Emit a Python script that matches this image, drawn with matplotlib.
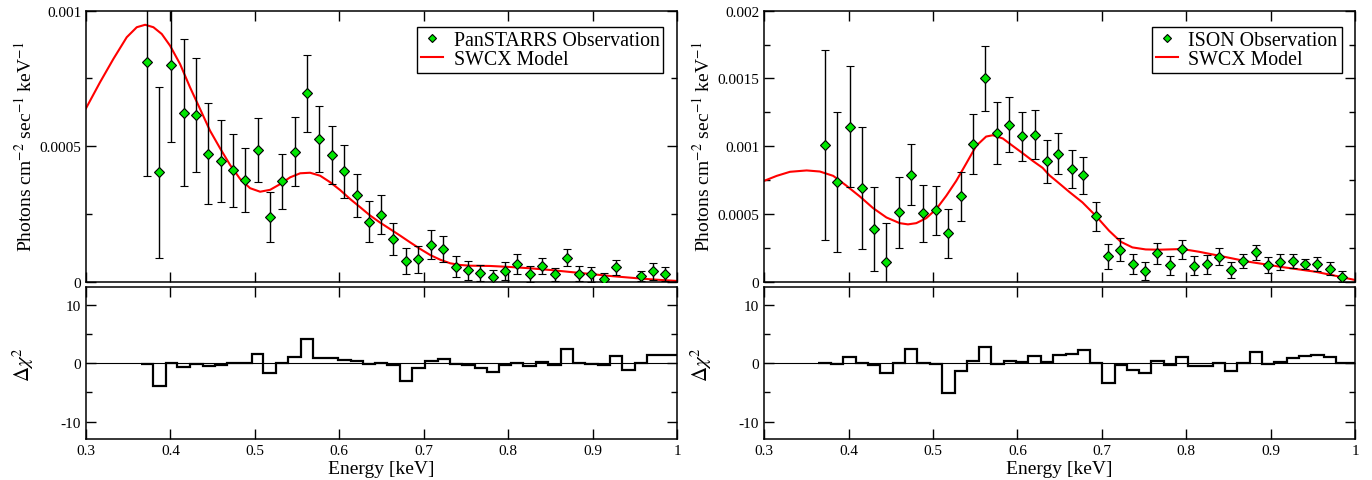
import numpy as np
import matplotlib
matplotlib.use('Agg')
import matplotlib.pyplot as plt
from matplotlib.lines import Line2D
from matplotlib.ticker import MultipleLocator, FormatStrFormatter

plt.rcParams['font.family'] = ['Liberation Serif', 'DejaVu Serif']
plt.rcParams['mathtext.fontset'] = 'stix'
plt.rcParams['axes.unicode_minus'] = False

# PanSTARRS spectrum (flux in units of 1e-4 photons cm-2 s-1 keV-1)
pan_energy = [0.3719, 0.3865, 0.4007, 0.4161, 0.4303, 0.4449, 0.4596, 0.4742, 0.4887, 0.5038,
              0.518, 0.5326, 0.5476, 0.5622, 0.5764, 0.5915, 0.606, 0.6207, 0.6353, 0.6495,
              0.6641, 0.6791, 0.6937, 0.7084, 0.723, 0.7376, 0.7522, 0.7668, 0.7814, 0.7964,
              0.8107, 0.8257, 0.8403, 0.8549, 0.8695, 0.8841, 0.8983, 0.9134, 0.928, 0.9572,
              0.9718, 0.986]
pan_flux = [8.1, 4.03, 8.0, 6.24, 6.15, 4.73, 4.46, 4.11, 3.75, 4.86,
            2.39, 3.70, 4.79, 6.96, 5.28, 4.66, 4.08, 3.19, 2.21, 2.47,
            1.56, 0.76, 0.83, 1.36, 1.21, 0.55, 0.42, 0.31, 0.16, 0.40,
            0.67, 0.27, 0.58, 0.27, 0.88, 0.29, 0.28, 0.085, 0.53, 0.21,
            0.38, 0.29]
pan_err = [4.2, 3.15, 2.85, 2.7, 2.1, 1.87, 1.52, 1.34, 1.17, 1.18,
           0.92, 1.02, 1.27, 1.42, 1.22, 1.07, 0.98, 0.80, 0.75, 0.72,
           0.59, 0.49, 0.50, 0.53, 0.47, 0.38, 0.34, 0.29, 0.27, 0.34,
           0.37, 0.30, 0.30, 0.25, 0.31, 0.28, 0.28, 0.22, 0.28, 0.20,
           0.30, 0.25]
pan_model_e = [0.3, 0.3166, 0.3324, 0.3482, 0.3601, 0.37, 0.3798, 0.3897, 0.3995, 0.4114,
               0.4232, 0.4351, 0.4469, 0.4588, 0.4706, 0.4825, 0.4943, 0.5062, 0.518, 0.5299,
               0.5417, 0.5536, 0.5654, 0.5773, 0.5891, 0.601, 0.6128, 0.6246, 0.6365, 0.6483,
               0.6602, 0.672, 0.6839, 0.6957, 0.7076, 0.7194, 0.7313, 0.7431, 0.755, 0.7787,
               0.8024, 0.8261, 0.8498, 0.8735, 0.8972, 0.9209, 0.9445, 0.9682, 1.0]
pan_model = [6.4, 7.36, 8.22, 9.02, 9.39, 9.48, 9.39, 9.14, 8.71, 8.03,
             7.17, 6.37, 5.57, 4.92, 4.31, 3.79, 3.45, 3.32, 3.39, 3.60,
             3.85, 4.00, 4.02, 3.91, 3.67, 3.38, 3.05, 2.75, 2.44, 2.18,
             1.94, 1.70, 1.45, 1.21, 0.985, 0.812, 0.679, 0.616, 0.59, 0.58,
             0.542, 0.494, 0.432, 0.358, 0.284, 0.21, 0.148, 0.089, 0.026]
pan_res_edges = [0.3652, 0.379, 0.3948, 0.4082, 0.4232, 0.4382, 0.4528, 0.4671, 0.4816, 0.4963,
                 0.5101, 0.5251, 0.5397, 0.5544, 0.5693, 0.5844, 0.599, 0.6136, 0.6278, 0.6424,
                 0.657, 0.672, 0.6866, 0.7017, 0.7163, 0.7305, 0.7451, 0.7601, 0.7748, 0.7893,
                 0.8036, 0.8181, 0.8328, 0.847, 0.862, 0.8766, 0.8912, 0.9058, 0.9205, 0.935,
                 0.9497, 0.9643, 1.0]
pan_res = [-0.17, -3.89, 0, -0.69, -0.06, -0.46, -0.23, 0, 0, 1.6,
           -1.77, 0.06, 1.14, 4.06, 0.97, 0.86, 0.57, 0.29, -0.17, 0.06,
           -0.23, -3.03, -0.91, 0.34, 0.63, -0.17, -0.34, -0.8, -1.54, -0.23,
           0.11, -0.57, 0.17, -0.23, 2.46, 0, -0.06, -0.4, 1.2, -1.2,
           0, 1.37]

# ISON spectrum
ison_energy = [0.3724, 0.3866, 0.4012, 0.4161, 0.4303, 0.4449, 0.4598, 0.4744, 0.4886, 0.5031,
               0.5181, 0.5327, 0.5472, 0.5618, 0.5764, 0.5905, 0.6059, 0.6205, 0.6346, 0.6484,
               0.6641, 0.6783, 0.6936, 0.7078, 0.722, 0.737, 0.7515, 0.7657, 0.7803, 0.7949,
               0.8094, 0.824, 0.8386, 0.8531, 0.8677, 0.8822, 0.8968, 0.911, 0.926, 0.941,
               0.9551, 0.9697, 0.9842]
ison_flux = [10.1, 7.37, 11.45, 6.88, 3.88, 1.45, 5.11, 7.91, 5.06, 5.26,
             3.56, 6.31, 10.15, 15.01, 10.98, 11.6, 10.74, 10.84, 8.87, 9.46,
             8.35, 7.86, 4.84, 1.87, 2.36, 1.28, 0.81, 2.11, 1.23, 2.41,
             1.18, 1.28, 1.84, 0.885, 1.52, 2.16, 1.25, 1.45, 1.52, 1.30,
             1.28, 0.96, 0.37]
ison_err = [7.0, 5.15, 4.45, 4.5, 3.1, 2.9, 2.63, 2.25, 2.1, 1.8,
            1.8, 1.8, 2.2, 2.4, 2.3, 2.0, 1.8, 1.8, 1.6, 1.5,
            1.4, 1.37, 1.07, 0.93, 0.86, 0.74, 0.66, 0.77, 0.70, 0.70,
            0.69, 0.68, 0.64, 0.60, 0.50, 0.54, 0.60, 0.56, 0.50, 0.40,
            0.52, 0.50, 0.40]
ison_model_e = [0.3, 0.315, 0.3307, 0.3504, 0.3661, 0.3819, 0.3976, 0.4134, 0.4291, 0.4449,
                0.4606, 0.4704, 0.4803, 0.4921, 0.504, 0.5158, 0.5276, 0.5394, 0.5512, 0.563,
                0.5709, 0.5827, 0.5945, 0.6063, 0.6181, 0.6299, 0.6378, 0.6496, 0.6614, 0.6771,
                0.6929, 0.7086, 0.7224, 0.7362, 0.752, 0.7677, 0.7953, 0.815, 0.8346, 0.8543,
                0.874, 0.8937, 0.9133, 0.933, 0.9527, 0.9724, 1.0]
ison_model = [7.44, 7.81, 8.11, 8.21, 8.13, 7.81, 7.08, 6.29, 5.43, 4.74,
              4.32, 4.23, 4.32, 4.69, 5.36, 6.34, 7.44, 8.72, 10.02, 10.71,
              10.81, 10.57, 10.02, 9.48, 8.92, 8.4, 7.86, 7.25, 6.63, 5.85,
              4.86, 3.76, 2.95, 2.53, 2.38, 2.36, 2.41, 2.21, 1.97, 1.72,
              1.47, 1.28, 1.08, 0.909, 0.737, 0.491, 0.123]
ison_res_edges = [0.3641, 0.3791, 0.3937, 0.4087, 0.4232, 0.4378, 0.4524, 0.4669, 0.4815, 0.4961,
                  0.5106, 0.5256, 0.5401, 0.5543, 0.5693, 0.5838, 0.5985, 0.613, 0.628, 0.6417,
                  0.6575, 0.672, 0.6862, 0.7007, 0.7154, 0.7295, 0.7441, 0.7586, 0.7733, 0.7878,
                  0.8023, 0.8169, 0.8315, 0.846, 0.8606, 0.8752, 0.8897, 0.9043, 0.9192, 0.9334,
                  0.948, 0.9626, 0.9771, 1.0]
ison_res = [0.06, -0.11, 1.09, 0, -0.29, -1.71, 0, 2.4, 0, -0.11,
            -5.03, -1.31, 0.34, 2.8, -0.06, 0.34, 0.23, 1.26, 0.17, 1.37,
            1.49, 2.29, 0, -3.43, -0.23, -1.09, -1.66, 0.4, -0.29, 1.09,
            -0.57, -0.46, 0.06, -1.37, 0, 1.89, -0.11, 0.23, 0.86, 1.26,
            1.43, 1.14, 0]

ylabel = r'Photons cm$^{-2}$ sec$^{-1}$ keV$^{-1}$'
GREEN = '#00e600'


def style_axis(ax):
    ax.tick_params(which='both', direction='in', top=True, right=True,
                   labelsize=11, width=1)
    ax.tick_params(which='major', length=7)
    ax.tick_params(which='minor', length=4)
    for s in ax.spines.values():
        s.set_linewidth(1.1)


def panel(x0, energy, flux, err, model_e, model, res_edges, res, name, ymax, ystep):
    scale = 1e-4
    top = fig.add_axes([x0, 0.4123, 0.4308, 0.5634])
    bot = fig.add_axes([x0, 0.0852, 0.4308, 0.3154])

    top.plot(model_e, np.array(model) * scale, color='#ff0000', lw=1.5, zorder=2)
    top.errorbar(energy, np.array(flux) * scale, yerr=np.array(err) * scale,
                 fmt='D', ms=5.5, mfc=GREEN, mec='black', mew=0.8,
                 ecolor='black', elinewidth=1, capsize=3, capthick=1, zorder=3)
    top.set_xlim(0.3, 1.0)
    top.set_ylim(0, ymax)
    top.xaxis.set_major_locator(MultipleLocator(0.1))
    top.yaxis.set_major_locator(MultipleLocator(ystep))
    top.yaxis.set_minor_locator(MultipleLocator(0.00025))
    top.yaxis.set_major_formatter(FormatStrFormatter('%g'))
    top.set_xticklabels([])
    top.set_ylabel(ylabel, fontsize=14)
    top.yaxis.set_label_coords(-0.085, 0.5)
    style_axis(top)

    handles = [Line2D([], [], ls='none', marker='D', ms=4.5, mfc=GREEN,
                      mec='black', mew=0.8),
               Line2D([], [], color='#ff0000', lw=1.5)]
    leg = top.legend(handles, [name, 'SWCX Model'], loc='upper right',
                     bbox_to_anchor=(0.977, 0.941), borderaxespad=0,
                     fontsize=14.3, frameon=True, fancybox=False,
                     edgecolor='black', framealpha=1, handlelength=1.1,
                     handletextpad=0.55, labelspacing=0.0, borderpad=0.2,
                     numpoints=1)
    leg.get_frame().set_linewidth(1)

    bot.axhline(0, color='black', lw=0.8)
    bot.stairs(res, res_edges, color='black', lw=1.6, baseline=None)
    bot.set_xlim(0.3, 1.0)
    bot.set_ylim(-13, 13)
    bot.xaxis.set_major_locator(MultipleLocator(0.1))
    bot.xaxis.set_major_formatter(FormatStrFormatter('%g'))
    bot.yaxis.set_major_locator(MultipleLocator(10))
    bot.yaxis.set_minor_locator(MultipleLocator(5))
    bot.set_xlabel('Energy [keV]', fontsize=14, labelpad=2)
    bot.set_ylabel(r'$\Delta\chi^2$', fontsize=15)
    bot.yaxis.set_label_coords(-0.085, 0.5)
    style_axis(bot)


fig = plt.figure(figsize=(13.72, 4.81), dpi=100)
panel(0.0627, pan_energy, pan_flux, pan_err, pan_model_e, pan_model,
      pan_res_edges, pan_res, 'PanSTARRS Observation', 0.001, 0.0005)
panel(0.5569, ison_energy, ison_flux, ison_err, ison_model_e, ison_model,
      ison_res_edges, ison_res, 'ISON Observation', 0.002, 0.0005)

fig.savefig('out.png', dpi=100)
